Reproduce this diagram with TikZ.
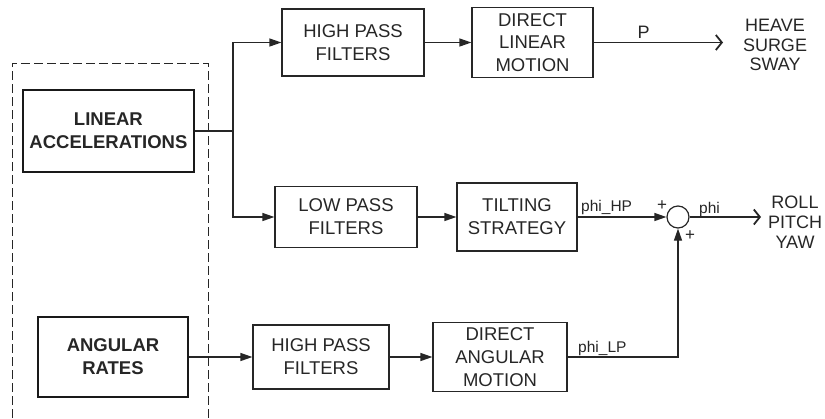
\documentclass[tikz,border=0pt]{standalone}
\usepackage{fontspec}
\setmainfont{Liberation Sans}
\usetikzlibrary{arrows.meta}
\tikzset{
    block line/.style={line width=1.2pt, draw=black!85},
    filter block/.style={
        block line,
        align=center,
        inner sep=1pt,
        text=black!85,
        font=\fontsize{18.5}{22.8}\selectfont
    },
    source block/.style={
        line width=2.6pt,
        draw=black!90,
        align=center,
        inner sep=1pt,
        text=black!85,
        font=\bfseries\fontsize{18.5}{23}\selectfont
    },
    sum point/.style={block line, circle, minimum size=22pt, inner sep=0pt},
    signal line/.style={line width=1.2pt, black!85},
    signal arrow/.style={signal line, -{Triangle[length=12pt,width=8pt]}},
    output arrow/.style={signal line, -{Straight Barb[length=6pt,width=15pt,line width=1.8pt]}},
    group line/.style={line width=1pt, black!85, dash pattern=on 9pt off 4pt},
    output text/.style={align=center, text=black!85, inner sep=0pt,
        font=\fontsize{18}{19.8}\selectfont},
    signal label/.style={anchor=base west, inner sep=0pt, text=black!85,
        font=\fontsize{15.5}{15.5}\selectfont},
    sign label/.style={inner sep=0pt, text=black!85, font=\fontsize{17}{17}\selectfont}
}

\begin{document}
\begin{tikzpicture}[x=1pt,y=-1pt]
    \useasboundingbox(0,0)rectangle(825,418);
    \draw[group line](12,418)--(12,63)--(208,63)--(208,418);
    \node[source block,minimum width=171pt,minimum height=82pt](linacc)at(108.4,131){LINEAR\\ACCELERATIONS};
    \node[source block,minimum width=150pt,minimum height=80pt](angrates)at(113,357){ANGULAR\\RATES};
    \node[filter block,minimum width=142pt,minimum height=67pt](hpfone)at(353,42.5){HIGH PASS\\FILTERS};
    \node[filter block,minimum width=121pt,minimum height=70pt](dlm)at(532.5,42.5){DIRECT\\LINEAR\\MOTION};
    \node[filter block,minimum width=142pt,minimum height=61pt](lpf)at(346,217){LOW PASS\\FILTERS};
    \node[filter block,minimum width=120pt,minimum height=68pt](tilt)at(517,217){TILTING\\STRATEGY};
    \node[filter block,minimum width=136pt,minimum height=64pt](hpftwo)at(321,357){HIGH PASS\\FILTERS};
    \node[filter block,minimum width=134pt,minimum height=69pt](dam)at(500,357){DIRECT\\ANGULAR\\MOTION};
    \node[sum point](sum)at(678,217){};
    \node[output text](heave)at(775,45){HEAVE\\SURGE\\SWAY};
    \node[output text](roll)at(795,222){ROLL\\PITCH\\YAW};
    \coordinate(split)at(233,131);
    \coordinate(pend)at(723,42.5);
    \coordinate(rend)at(761,217);
    \draw[signal line](linacc.east)--(split);
    \draw[signal arrow](split)|-(hpfone.west);
    \draw[signal arrow](split)|-(lpf.west);
    \draw[signal arrow](hpfone)--(dlm);
    \draw[output arrow](dlm.east)--(pend)node[signal label,font=\fontsize{18}{18}\selectfont]at(637,38){P};
    \draw[signal arrow](lpf)--(tilt);
    \draw[signal arrow](tilt.east)--(sum.west);
    \draw[output arrow](sum.east)--(rend);
    \draw[signal arrow](angrates)--(hpftwo);
    \draw[signal arrow](hpftwo)--(dam);
    \draw[signal arrow](dam.east)-|(sum.south);
    \node[signal label]at(581,211){phi\_HP};
    \node[signal label]at(578,352){phi\_LP};
    \node[signal label]at(699,213){phi};
    \node[sign label]at(662,206){+};
    \node[sign label]at(690,236){+};
\end{tikzpicture}
\end{document}
